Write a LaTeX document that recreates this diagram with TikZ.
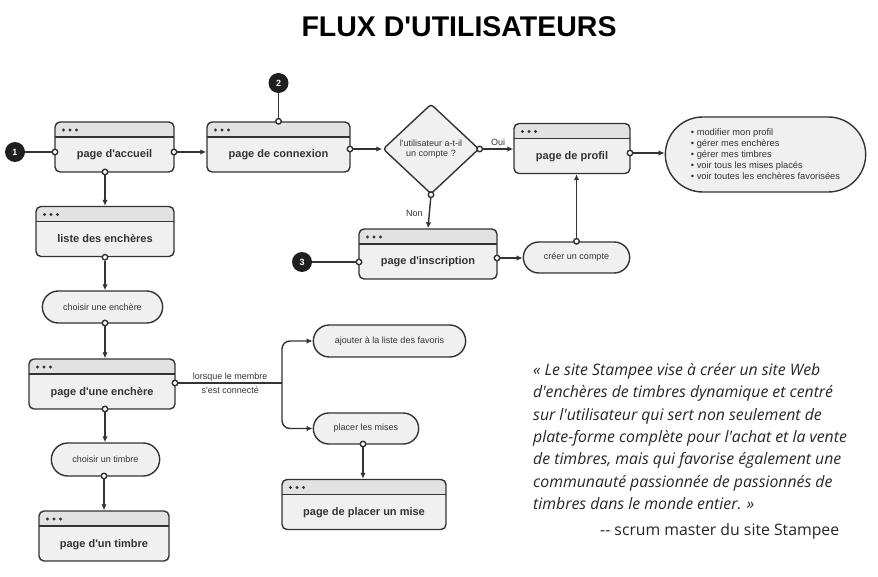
\documentclass[tikz,border=0pt]{standalone}
\usepackage{fontspec}
\setmainfont{Liberation Sans}[Ligatures=TeXOff]
\newfontfamily\citefont{Open Sans}[Ligatures=TeXOff]
\usepackage{tikz}
\usetikzlibrary{arrows.meta,shapes.geometric,shapes.misc}
\usepackage{xcolor}
\definecolor{trait}{HTML}{333333}
\definecolor{fond}{HTML}{F0F0F0}
\definecolor{entete}{HTML}{E2E2E2}
\definecolor{pastille}{HTML}{1F1F1F}

\tikzset{
	lien/.style={draw=trait, line width=1.4pt},
	fleche/.style={lien, -{Latex[length=6pt,width=5.5pt]}},
	page/.style={draw=trait, line width=1.4pt, fill=fond, rounded corners=5pt, inner ysep=0pt,
		text height=36pt, text depth=14pt, text=trait, font=\bfseries\fontsize{11}{13}\selectfont,
		path picture={
			\fill[entete, sharp corners] (path picture bounding box.north west) rectangle ([yshift=-15pt]path picture bounding box.north east);
			\draw[trait, line width=1.4pt] ([yshift=-15pt]path picture bounding box.north west) -- ([yshift=-15pt]path picture bounding box.north east);
			\foreach \dx in {8.5,15,21.5}
				\fill[trait] ([xshift=\dx pt, yshift=-8pt]path picture bounding box.north west) circle (1.7pt);
		}},
	action/.style={rounded rectangle, draw=trait, line width=1.4pt, fill=fond, minimum height=32pt,
		text=trait, font=\fontsize{9}{11}\selectfont},
	decision/.style={diamond, aspect=1.07, draw=trait, line width=1.4pt, fill=fond, rounded corners=3pt,
		minimum width=96pt, minimum height=90pt, inner sep=0pt, align=center,
		text=trait, font=\fontsize{9}{10.5}\selectfont},
	etape/.style={circle, fill=pastille, minimum size=20pt, inner sep=0pt, text=white,
		font=\bfseries\fontsize{9}{9}\selectfont},
	raccord/.style={circle, draw=trait, fill=white, line width=1.4pt, minimum size=5.5pt, inner sep=0pt},
	etiquette/.style={text=trait, inner sep=1pt, font=\fontsize{9}{11}\selectfont},
	citation/.style={text=black!85, inner sep=0pt, align=left, font=\citefont\itshape\fontsize{15.8}{22.4}\selectfont}
}

\begin{document}
\begin{tikzpicture}[x=1pt, y=-1pt]
	\useasboundingbox (0,0) rectangle (878,577);
	\node (titre) [inner sep=0pt, font=\bfseries\fontsize{28.5}{30}\selectfont] at (459,27) {FLUX D'UTILISATEURS};

	\node (accueil) [page, minimum width=119pt] at (114.5,147) {page d'accueil};
	\node (connexion) [page, minimum width=143pt] at (278.5,147) {page de connexion};
	\node (question) [decision] at (431,149) {l'utilisateur a-t-il\\un compte ?};
	\node (profil) [page, minimum width=116pt] at (572,148.5) {page de profil};
	\node (actions) [action, minimum width=207pt, minimum height=75pt, align=left,
		font=\fontsize{9.3}{11}\selectfont] at (765.5,154.5)
		{\textbullet\ modifier mon profil\\\textbullet\ gérer mes enchères\\\textbullet\ gérer mes timbres\\\textbullet\ voir tous les mises placés\\\textbullet\ voir toutes les enchères favorisées};
	\node (inscription) [page, minimum width=138pt] at (428,254) {page d'inscription};
	\node (creer) [action, minimum width=113pt, minimum height=31pt] at (576.5,257.5) {créer un compte};

	\node (liste) [page, minimum width=138pt] at (105,231.5) {liste des enchères};
	\node (choixEnchere) [action, minimum width=127pt] at (102.5,307) {choisir une enchère};
	\node (enchere) [page, minimum width=146pt] at (102,384) {page d'une enchère};
	\node (choixTimbre) [action, minimum width=115pt, minimum height=33pt] at (105.5,459.5) {choisir un timbre};
	\node (timbre) [page, minimum width=130pt] at (104,536) {page d'un timbre};

	\node (ajouter) [action, minimum width=159pt] at (389.5,341) {ajouter à la liste des favoris};
	\node (mises) [action, minimum width=112pt, minimum height=31pt] at (366,428.5) {placer les mises};
	\node (placerMise) [page, minimum width=164pt] at (364,504.5) {page de placer un mise};

	\node (n1) [etape] at (15,152) {1};
	\node (n2) [etape] at (278.5,83) {2};
	\node (n3) [etape] at (302,262) {3};

	\node (accueilW) [raccord] at (55,152) {};
	\node (accueilE) [raccord] at (174,152) {};
	\node (accueilS) [raccord] at (105,172) {};
	\node (connexionN) [raccord] at (connexion.north) {};
	\node (connexionE) [raccord] at (350,149) {};
	\node (questionE) [raccord] at (question.east) {};
	\node (questionS) [raccord] at (question.south) {};
	\node (profilE) [raccord] at (630,153) {};
	\node (inscriptionW) [raccord] at (359,262) {};
	\node (inscriptionE) [raccord] at (497,258) {};
	\node (creerN) [raccord] at (creer.north) {};
	\node (listeS) [raccord] at (liste.south) {};
	\node (choixEnchereS) [raccord] at (105,323) {};
	\node (enchereE) [raccord] at (175,383) {};
	\node (enchereS) [raccord] at (105,409) {};
	\node (choixTimbreS) [raccord] at (104,476) {};
	\node (misesS) [raccord] at (363,444) {};
	\coordinate (branche) at (282,383);

	\draw[lien] (n1) -- (accueilW);
	\draw[lien] (n2) -- (connexionN);
	\draw[lien] (n3) -- (inscriptionW);
	\draw[fleche] (accueilE) -- (accueilE -| connexion.west);
	\draw[fleche] (connexionE) -- (question.west);
	\draw[fleche] (questionE) -- (questionE -| profil.west) node[etiquette, midway, above=2pt] {Oui};
	\draw[fleche] (profilE) -- (profilE -| actions.west);
	\draw[fleche] (questionS) -- (inscription.north) node[etiquette, midway, left=5pt] {Non};
	\draw[fleche] (inscriptionE) -- (inscriptionE -| creer.west);
	\draw[fleche] (creerN) -- (creerN |- profil.south);
	\draw[fleche] (accueilS) -- (accueilS |- liste.north);
	\draw[fleche] (listeS) -- (listeS |- choixEnchere.north);
	\draw[fleche] (choixEnchereS) -- (choixEnchereS |- enchere.north);
	\draw[fleche] (enchereS) -- (enchereS |- choixTimbre.north);
	\draw[fleche] (choixTimbreS) -- (choixTimbreS |- timbre.north);
	\draw[fleche] (misesS) -- (misesS |- placerMise.north);
	\draw[lien] (enchereE) -- (branche)
		node[etiquette, midway, above] {lorsque le membre}
		node[etiquette, midway, below=2pt] {s'est connecté};
	\draw[fleche, rounded corners=8pt] (branche) |- (ajouter.west);
	\draw[fleche, rounded corners=8pt] (branche) |- (mises.west);

	\node (citation) [citation, anchor=north west] at (533,363)
		{« Le site Stampee vise à créer un site Web\\d'enchères de timbres dynamique et centré\\sur l'utilisateur qui sert non seulement de\\plate-forme complète pour l'achat et la vente\\de timbres, mais qui favorise également une\\communauté passionnée de passionnés de\\timbres dans le monde entier. »};
	\node (auteur) [inner sep=0pt, text=black!85, font=\citefont\fontsize{15.8}{18}\selectfont, anchor=base west] at (600,535) {-- scrum master du site Stampee};
\end{tikzpicture}
\end{document}
